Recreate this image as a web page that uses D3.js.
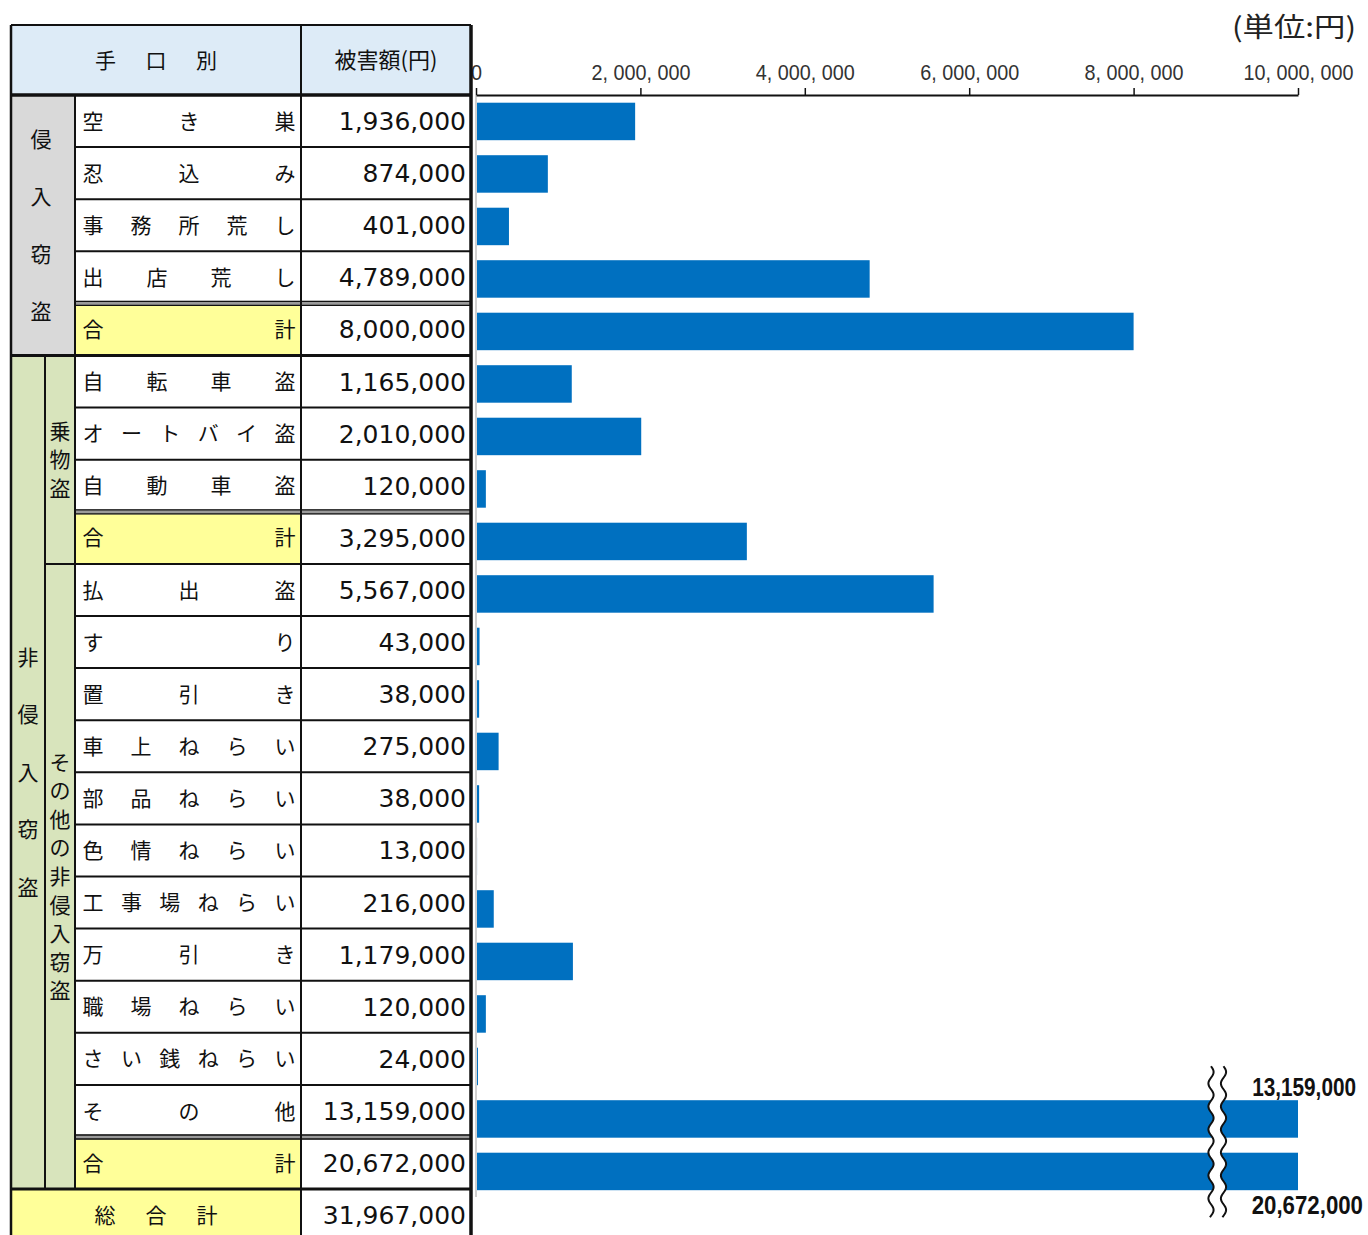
<!DOCTYPE html>
<html><head><meta charset="utf-8">
<script src="https://cdn.jsdelivr.net/npm/d3@7"></script>
<style>body{margin:0;background:#fff}svg{display:block}</style>
</head><body>
<svg id="c" width="1368" height="1235"></svg>
<script>
// ---- data ----
const labels = ["空き巣","忍込み","事務所荒し","出店荒し","合計","自転車盗","オートバイ盗","自動車盗","合計","払出盗","すり","置引き","車上ねらい","部品ねらい","色情ねらい","工事場ねらい","万引き","職場ねらい","さい銭ねらい","その他","合計"];
const values = [1936000,874000,401000,4789000,8000000,1165000,2010000,120000,3295000,5567000,43000,38000,275000,38000,13000,216000,1179000,120000,24000,13159000,20672000];
const subtotalIdx = [4,8,20];
const grandLabel = "総合計";
const grandValue = 31967000;
const tickValues = [0,2000000,4000000,6000000,8000000,10000000];
const axisMax = 10000000;
const unitLabel = "(単位:円)";
const headerLabels = ["手口別","被害額(円)"];
const groupLabels = ["侵入窃盗","非侵入窃盗","乗物盗","その他の非侵入窃盗"];
const groupFrom = [0,5,5,9];
const groupTo = [4,20,8,20];
const groupLevel = [0,0,1,1];

(function draw() {
const svg = d3.select("#c");
const jp = "'Noto Sans CJK JP','Noto Sans CJK SC',sans-serif";
const num = "'DejaVu Sans',sans-serif";
const BLUE = "#0070c0";

const x = d3.scaleLinear().domain([0, axisMax]).range([476, 1298]);
const nRows = labels.length + 1;
const yRow = d3.scaleBand().domain(d3.range(nRows)).range([95, 95 + nRows * 52.1]);
const yBar = d3.scaleBand().domain(d3.range(labels.length))
  .range([95.2, 95.2 + labels.length * 52.5]).paddingInner(0.286).paddingOuter(0.143);

// ---- chart ----
const chart = svg.append("g");
chart.append("line").attr("x1", x(0)).attr("x2", x(0)).attr("y1", 95).attr("y2", 1197)
  .attr("stroke", "#d0d0d0").attr("stroke-width", 2);

chart.selectAll("rect.bar").data(values).join("rect").attr("class", "bar")
  .attr("x", x(0) + 1)
  .attr("y", (d, i) => yBar(i))
  .attr("width", d => Math.max(0, x(Math.min(d, axisMax)) - x(0) - 1))
  .attr("height", yBar.bandwidth())
  .attr("fill", BLUE);

const axis = d3.axisTop(x).tickValues(tickValues).tickSize(7).tickSizeOuter(0).tickPadding(8)
  .tickFormat(d => d3.format(",")(d).replace(/,/g, ", "));
const ag = chart.append("g").attr("transform", "translate(0,95)").call(axis);
ag.select(".domain").attr("stroke", "#111").attr("stroke-width", 2);
ag.selectAll(".tick line").attr("stroke", "#111").attr("stroke-width", 1.5);
ag.selectAll(".tick text").attr("font-family", "'Liberation Sans',sans-serif")
  .attr("font-size", 22).attr("fill", "#333").attr("y", -15).attr("dy", 0)
  .attr("transform", "scale(0.9,1)");

chart.append("text").text(unitLabel).attr("x", 1356).attr("y", 37)
  .attr("text-anchor", "end").attr("font-family", jp).attr("font-size", 27)
  .attr("fill", "#222").attr("textLength", 124).attr("lengthAdjust", "spacingAndGlyphs");

// break marks for values beyond the axis
const over = values.map((v, i) => i).filter(i => values[i] > axisMax);
if (over.length) {
  const y0 = yBar(over[0]) - 34, y1 = yBar(over[over.length - 1]) + yBar.bandwidth() + 28;
  const wave = (cx) => {
    const pts = [];
    for (let yy = y0; yy <= y1; yy += 1) pts.push([cx + 2.6 * Math.sin((yy - y0) / 23 * 2 * Math.PI), yy]);
    return pts;
  };
  const L = wave(1211), R = wave(1223.5);
  chart.append("path").attr("d", d3.line()(L.concat(R.slice().reverse())) + "Z").attr("fill", "#fff");
  [L, R].forEach(p => chart.append("path").attr("d", d3.line()(p)).attr("fill", "none")
    .attr("stroke", "#111").attr("stroke-width", 2));
  const fmt = d3.format(",");
  const i0 = over[0], i1 = over[over.length - 1];
  const lab = (v, xe, yb, sx) => chart.append("g").attr("transform", `translate(${xe},${yb}) scale(${sx},1)`)
    .append("text").text(fmt(v)).attr("x", 0).attr("y", 0).attr("text-anchor", "end")
    .attr("font-family", "'Liberation Sans',sans-serif").attr("font-weight", "bold").attr("font-size", 25)
    .attr("fill", "#111");
  lab(values[i0], 1356, 1096, 0.83);
  lab(values[i1], 1363, 1214, 0.89);
}

// ---- table ----
const T = svg.append("g");
const xL = 11, xG = 45, xN = 75, xV = 301, xR = 471;
const rowTop = i => yRow(i), rowH = yRow.bandwidth();
const tTop = 25, hdrBot = 95, tabBot = 1235;

T.append("rect").attr("x", xL).attr("y", tTop).attr("width", xR - xL).attr("height", hdrBot - tTop).attr("fill", "#ddebf7");
T.append("rect").attr("x", xL).attr("y", rowTop(0)).attr("width", xN - xL).attr("height", rowTop(5) - rowTop(0)).attr("fill", "#d9d9d9");
T.append("rect").attr("x", xL).attr("y", rowTop(5)).attr("width", xN - xL).attr("height", rowTop(21) - rowTop(5)).attr("fill", "#d8e4bc");
labels.forEach((lab, i) => {
  T.append("rect").attr("x", xN).attr("y", rowTop(i)).attr("width", xV - xN).attr("height", rowH)
    .attr("fill", subtotalIdx.includes(i) ? "#ffff99" : "#fff");
  T.append("rect").attr("x", xV).attr("y", rowTop(i)).attr("width", xR - xV).attr("height", rowH).attr("fill", "#fff");
});
T.append("rect").attr("x", xL).attr("y", rowTop(21)).attr("width", xV - xL).attr("height", tabBot - rowTop(21)).attr("fill", "#ffff99");
T.append("rect").attr("x", xV).attr("y", rowTop(21)).attr("width", xR - xV).attr("height", tabBot - rowTop(21)).attr("fill", "#fff");

const line = (x1, y1, x2, y2, w) => T.append("line").attr("x1", x1).attr("y1", y1).attr("x2", x2).attr("y2", y2)
  .attr("stroke", "#111").attr("stroke-width", w || 2);

for (let i = 1; i < nRows; i++) {
  const yy = rowTop(i);
  if (subtotalIdx.includes(i)) {
    T.append("rect").attr("x", xN).attr("y", yy - 2.5).attr("width", xR - xN).attr("height", 5).attr("fill", "#9a9a9a");
    line(xN, yy - 2, xR, yy - 2, 1.3);
    line(xN, yy + 2, xR, yy + 2, 1.3);
  } else if (i === 5 || i === 21) {
    line(xL, yy, xR, yy, 3);
  } else if (i === 9) {
    line(xG, yy, xR, yy, 2);
  } else {
    line(xN, yy, xR, yy, 2);
  }
}
line(xL, hdrBot, xR, hdrBot, 3.5);
line(xL, tTop, xR, tTop, 2);
line(xL, tTop, xL, tabBot, 2.5);
line(xR, tTop, xR, tabBot, 3.5);
line(xV, tTop, xV, tabBot, 2);
line(xN, hdrBot, xN, rowTop(21), 2);
line(xG, rowTop(5), xG, rowTop(21), 2);

const hdr1 = Array.from(headerLabels[0]);
hdr1.forEach((ch, k) => T.append("text").text(ch).attr("x", 156 + (k - (hdr1.length - 1) / 2) * 50.5)
  .attr("y", 60).attr("dy", "0.36em").attr("text-anchor", "middle").attr("font-family", jp).attr("font-size", 21).attr("fill", "#111"));
T.append("text").text(headerLabels[1]).attr("x", 386).attr("y", 60).attr("dy", "0.36em")
  .attr("text-anchor", "middle").attr("font-family", jp).attr("font-size", 22).attr("fill", "#111");

const cy = i => rowTop(i) + rowH / 2;
labels.forEach((lab, i) => {
  const chars = Array.from(lab), n = chars.length;
  chars.forEach((ch, k) => T.append("text").text(ch)
    .attr("x", n > 1 ? 93 + k * (285 - 93) / (n - 1) : 189)
    .attr("y", cy(i)).attr("dy", "0.36em").attr("text-anchor", "middle")
    .attr("font-family", jp).attr("font-size", 21).attr("fill", "#111"));
  T.append("text").text(d3.format(",")(values[i])).attr("x", 466).attr("y", cy(i)).attr("dy", "0.36em")
    .attr("text-anchor", "end").attr("font-family", num).attr("font-size", 25).attr("fill", "#111");
});
const gch = Array.from(grandLabel);
gch.forEach((ch, k) => T.append("text").text(ch).attr("x", 156 + (k - (gch.length - 1) / 2) * 51)
  .attr("y", cy(21)).attr("dy", "0.36em").attr("text-anchor", "middle").attr("font-family", jp).attr("font-size", 21).attr("fill", "#111"));
T.append("text").text(d3.format(",")(grandValue)).attr("x", 466).attr("y", cy(21)).attr("dy", "0.36em")
  .attr("text-anchor", "end").attr("font-family", num).attr("font-size", 25).attr("fill", "#111");

groupLabels.forEach((g, j) => {
  const chars = Array.from(g), n = chars.length;
  const c = (rowTop(groupFrom[j]) + rowTop(groupTo[j] + 1)) / 2;
  const sp = groupLevel[j] === 0 ? 57.5 : 28.6;
  const gx = groupLevel[j] === 1 ? 60 : (j === 0 ? 41 : 28);
  chars.forEach((ch, k) => T.append("text").text(ch).attr("x", gx)
    .attr("y", c + (k - (n - 1) / 2) * sp).attr("dy", "0.36em").attr("text-anchor", "middle")
    .attr("font-family", jp).attr("font-size", 21).attr("fill", "#111"));
});
})();
</script>
</body></html>
